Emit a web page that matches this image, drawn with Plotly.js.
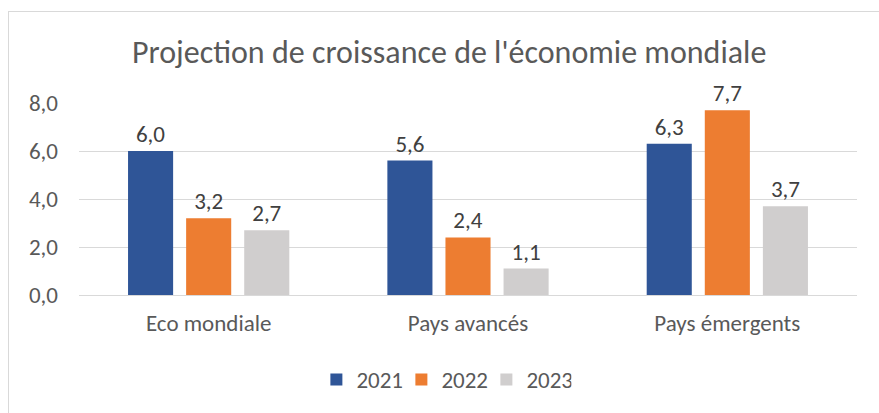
<!DOCTYPE html>
<html><head><meta charset="utf-8">
<script src="https://cdn.plot.ly/plotly-3.0.1.min.js"></script>
<style>
html,body{margin:0;padding:0;background:#fff;overflow:hidden;}
#chart{width:879px;height:413px;}
#frame{position:absolute;left:8px;top:11px;width:900px;height:500px;border:1.5px solid #d9d9d9;pointer-events:none;}
</style></head>
<body>
<div id="chart"></div>
<div id="frame"></div>
<script>
const categories = ["Eco mondiale", "Pays avancés", "Pays émergents"];
const seriesNames = ["2021", "2022", "2023"];
const values2021 = [6.0, 5.6, 6.3];
const values2022 = [3.2, 2.4, 7.7];
const values2023 = [2.7, 1.1, 3.7];
const yTicks = [0, 2, 4, 6, 8];
const colors = ["#2f5597", "#ed7d31", "#d0cece"];
const allValues = [values2021, values2022, values2023];

const font = "Calibri, Carlito, 'Open Sans', 'Noto Sans', sans-serif";
const traces = allValues.map((v, i) => ({
  type: "bar",
  name: seriesNames[i],
  x: categories,
  y: v,
  marker: {color: colors[i]},
  texttemplate: "%{y:.1f}",
  textposition: "outside",
  cliponaxis: false,
  textfont: {family: font, size: 23, color: "#404040"},
  hoverinfo: "none"
}));

const layout = {
  width: 879, height: 413,
  margin: {l: 79, r: 22, t: 103, b: 118, pad: 0},
  paper_bgcolor: "#fff", plot_bgcolor: "#fff",
  separators: ", ",
  barmode: "group",
  bargap: 0.328,
  bargroupgap: 0.224,
  font: {family: font, color: "#595959", size: 23},
  title: {text: "Projection de croissance de l'économie mondiale",
          font: {family: font, size: 32, color: "#595959"},
          x: 0.511, xanchor: "center", y: 0.875, yanchor: "middle"},
  xaxis: {tickfont: {size: 23, color: "#595959"}, showgrid: false, showline: false,
          zeroline: false, ticks: "", ticklabelstandoff: 12},
  yaxis: {range: [0, 8], tickvals: yTicks, tickformat: ".1f",
          tickfont: {size: 23, color: "#595959"},
          showgrid: true, gridcolor: "#d9d9d9", gridwidth: 1,
          zeroline: true, zerolinecolor: "#d9d9d9", zerolinewidth: 1,
          showline: false, ticks: "", ticklabelstandoff: 20},
  showlegend: true,
  legend: {orientation: "h", x: 0.469, xanchor: "center", y: -0.44, yanchor: "middle",
           font: {size: 23, color: "#595959"}, itemwidth: 30, entrywidth: 40,
           traceorder: "normal"}
};

Plotly.newPlot("chart", traces, layout, {staticPlot: true, displayModeBar: false});
</script>
</body></html>
